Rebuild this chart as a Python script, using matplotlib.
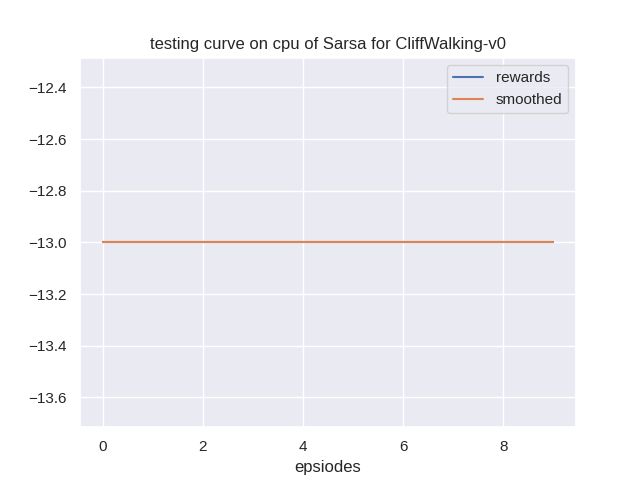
import matplotlib
matplotlib.use("Agg")
import matplotlib.pyplot as plt
import seaborn as sns

episodes = list(range(10))
rewards = [-13, -13, -13, -13, -13, -13, -13, -13, -13, -13]
smoothed = [-13, -13, -13, -13, -13, -13, -13, -13, -13, -13]

sns.set_theme()
# the original was rendered with Arial; Liberation Sans is the metric clone
plt.rcParams['font.family'] = ['Liberation Sans', 'DejaVu Sans']

plt.figure(figsize=(6.4, 4.8), dpi=100)
plt.title("testing curve on cpu of Sarsa for CliffWalking-v0")
plt.xlabel("epsiodes")
plt.plot(episodes, rewards, label="rewards")
plt.plot(episodes, smoothed, label="smoothed")
plt.legend()
plt.savefig("out.png")
